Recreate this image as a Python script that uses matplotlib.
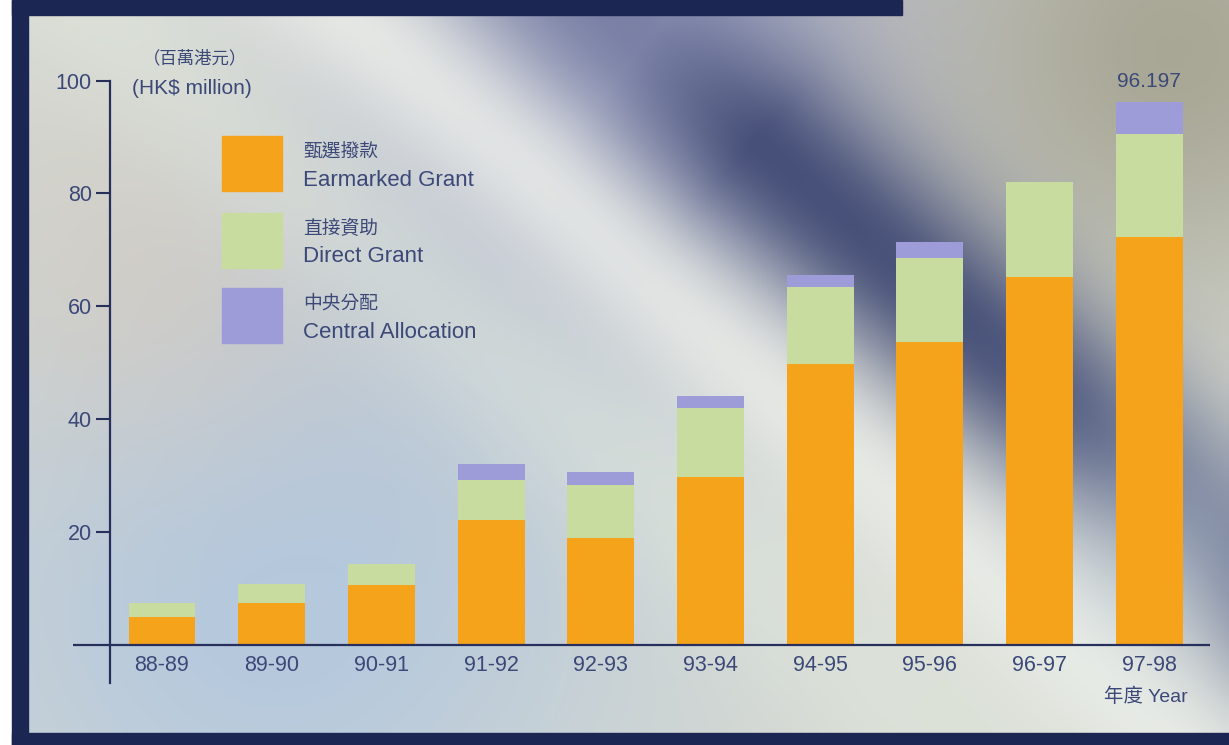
import numpy as np
import matplotlib.pyplot as plt
from matplotlib.patches import Rectangle

plt.rcParams['font.family'] = ['Liberation Sans', 'Noto Sans CJK TC', 'DejaVu Sans']

# 撥款數據 (百萬港元)
years = ['88-89', '89-90', '90-91', '91-92', '92-93', '93-94', '94-95', '95-96', '96-97', '97-98']
earmarked = [5.0, 7.4, 10.6, 22.1, 19.0, 29.8, 49.8, 53.7, 65.2, 72.3]
direct = [2.5, 3.4, 3.7, 7.1, 9.4, 12.2, 13.6, 14.9, 16.8, 18.2]
central = [0, 0, 0, 2.9, 2.3, 2.1, 2.1, 2.8, 0, 5.697]
top_label = '96.197'

c_orange = '#f6a31c'
c_green = '#c9dc9f'
c_purple = '#9e9cd8'
c_navy = '#27305c'
c_text = '#3c4878'

W, H = 1229, 745
fig = plt.figure(figsize=(W / 100, H / 100), dpi=100)
fig.patch.set_facecolor('white')

# background: blended colour blobs, roughly like the printed gradient
bg = fig.add_axes([0, 0, 1, 1])
bg.set_xlim(0, W)
bg.set_ylim(H, 0)
bg.axis('off')

gx, gy = np.meshgrid(np.linspace(0, W, 250), np.linspace(0, H, 150))
img = np.ones(gx.shape + (3,)) * np.array([0.84, 0.85, 0.82])

def blend(img, w, hexcol):
    col = np.array([int(hexcol[i:i + 2], 16) / 255 for i in (1, 3, 5)])
    w = np.clip(w, 0, 1)[..., None]
    return img * (1 - w) + col * w

def blob(cx, cy, s):
    return np.exp(-((gx - cx) ** 2 + (gy - cy) ** 2) / (2 * s ** 2))

img = blend(img, 0.75 * blob(250, 600, 260), '#a9c3e2')
img = blend(img, 0.45 * blob(130, 280, 150), '#dccbb8')
img = blend(img, 0.75 * blob(620, 40, 220), '#8b90bf')
img = blend(img, 0.8 * blob(1180, 50, 190), '#9e9c88')
# diagonal light / dark bands
ux, uy = 580, 500
nrm = np.hypot(ux, uy)
d = ((gx - 650) * uy - (gy - 60) * ux) / nrm
along = ((gx - 650) * ux + (gy - 60) * uy) / nrm
img = blend(img, 0.8 * np.exp(-((d + 170) / 85) ** 2), '#f1f3ec')
img = blend(img, 0.45 * np.exp(-((d + 340) / 90) ** 2), '#e4ece0')
img = blend(img, 0.88 * np.exp(-(d / 95) ** 2) * np.clip(0.5 + along / 250, 0.4, 1), '#39436f')
img = blend(img, 0.5 * blob(1160, 580, 110), '#e2ecec')
bg.imshow(img, extent=[28, W, 733, 0], interpolation='bilinear', aspect='auto')

# navy frame
bg.add_patch(Rectangle((12, 0), 16, H, color='#1c2652'))
bg.add_patch(Rectangle((12, 0), 890, 15, color='#1c2652'))
bg.add_patch(Rectangle((12, 733), W, 12, color='#1c2652'))

# chart axes
ax = fig.add_axes([73 / W, 1 - 682.8 / H, 1137 / W, (682.8 - 80.5) / H])
ax.patch.set_alpha(0)
x = np.arange(len(years))
bw = 0.61
ax.bar(x, earmarked, bw, color=c_orange)
ax.bar(x, direct, bw, bottom=earmarked, color=c_green)
bottoms = [a + b for a, b in zip(earmarked, direct)]
ax.bar(x, central, bw, bottom=bottoms, color=c_purple)

ax.set_xlim(-0.811, 9.553)
ax.set_ylim(-6.7, 100)
ax.axhline(0, color=c_navy, lw=1.6)

for s in ['top', 'right', 'bottom']:
    ax.spines[s].set_visible(False)
ax.spines['left'].set_position(('data', -0.474))
ax.spines['left'].set_color(c_navy)
ax.spines['left'].set_linewidth(1.6)
ax.set_yticks([20, 40, 60, 80, 100])
ax.tick_params(axis='y', length=10, width=1.5, color=c_navy, labelcolor=c_text,
               labelsize=15.5, pad=3)
ax.set_xticks([])
for i, yr in enumerate(years):
    ax.text(x[i], -3.7, yr, ha='center', va='center', fontsize=15.5, color=c_text)

totals = [a + b + c for a, b, c in zip(earmarked, direct, central)]
ax.text(x[-1], totals[-1] + 3.6, top_label, ha='center', va='center',
        fontsize=15, color=c_text)

# texts in figure pixels
def ft(px, py, s, **kw):
    fig.text(px / W, 1 - py / H, s, color=c_text, **kw)

ft(195, 58, '（百萬港元）', ha='center', va='center', fontsize=12.5)
ft(132, 88, '(HK$ million)', ha='left', va='center', fontsize=15)
ft(1188, 697, '年度 Year', ha='right', va='center', fontsize=14)

# legend
leg = [(c_orange, '甄選撥款', 'Earmarked Grant', 136),
       (c_green, '直接資助', 'Direct Grant', 213),
       (c_purple, '中央分配', 'Central Allocation', 288)]
for col, zh, en, top in leg:
    fig.patches.append(Rectangle((222 / W, 1 - (top + 55) / H), 60 / W, 55 / H,
                                 color=col, transform=fig.transFigure, figure=fig))
    ft(303, top + 16, zh, ha='left', va='center', fontsize=13.5, fontweight='medium')
    ft(303, top + 44, en, ha='left', va='center', fontsize=16)

fig.savefig('out.png', dpi=100)
